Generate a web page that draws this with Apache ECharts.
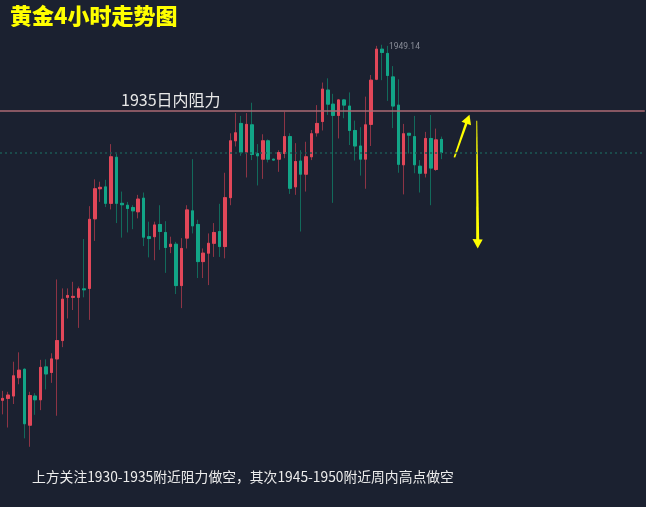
<!DOCTYPE html>
<html>
<head>
<meta charset="utf-8">
<script src="https://cdn.jsdelivr.net/npm/echarts@6/dist/echarts.min.js"></script>
<style>
html,body{margin:0;padding:0;background:#1b2130;}
#c{width:646px;height:507px;}
</style>
</head>
<body>
<div id="c"></div>
<script>
// ---- data (4h gold candles) ----
const opens  = [1873.5,1873.9,1874.4,1878.3,1880.1,1868.2,1874.4,1873.6,1880.6,1879.4,
                1882.3,1886.2,1895.4,1895.4,1895.4,1897.2,1897.3,1912.1,1918.5,1918.9,
                1915.4,1925.2,1915.4,1915.0,1914.5,1913.6,1916.5,1908.3,1908.3,1910.9,
                1909.2,1906.2,1906.7,1897.9,1908.0,1913.8,1910.9,1903.0,1904.8,1906.9,
                1909.4,1906.2,1916.6,1928.7,1932.4,1926.3,1932.1,1926.0,1924.8,1928.7,
                1924.8,1924.8,1926.0,1929.6,1918.9,1924.4,1921.6,1925.3,1930.4,1932.8,
                1939.5,1936.5,1934.1,1937.4,1936.1,1930.9,1927.6,1924.8,1932.2,1941.8,
                1948.2,1947.3,1942.3,1936.3,1923.6,1930.3,1929.6,1923.3,1921.8,1929.2,
                1922.6,1929.0];
const closes = [1873.9,1874.6,1878.7,1879.9,1868.5,1874.5,1873.6,1880.5,1879.1,1882.3,
                1886.2,1895.0,1895.8,1895.6,1897.2,1897.0,1912.0,1918.5,1918.8,1915.4,
                1925.3,1915.4,1915.1,1914.3,1913.8,1916.3,1908.2,1907.9,1910.8,1909.4,
                1906.0,1906.7,1897.9,1905.8,1914.0,1910.6,1903.0,1904.8,1906.9,1909.2,
                1906.2,1916.6,1928.7,1930.4,1926.3,1932.2,1925.8,1925.5,1928.7,1924.8,
                1924.6,1926.2,1929.6,1918.6,1924.3,1921.6,1925.3,1930.2,1932.4,1939.7,
                1936.5,1934.1,1937.4,1936.3,1930.9,1927.6,1924.8,1932.1,1941.6,1948.2,
                1947.5,1942.6,1936.1,1923.7,1930.2,1929.9,1923.6,1921.8,1929.2,1922.9,
                1928.9,1926.2];
const lows   = [1870.5,1867.7,1872.7,1876.9,1865.4,1863.6,1870.4,1871.4,1875.8,1877.2,
                1870.2,1884.8,1890.9,1892.7,1888.9,1895.4,1890.6,1907.4,1915.7,1914.6,
                1914.1,1911.2,1908.1,1909.2,1909.9,1912.2,1906.3,1903.9,1903.3,1905.5,
                1900.6,1904.8,1896.1,1893.1,1905.8,1909.0,1899.5,1899.5,1898.0,1904.0,
                1904.0,1903.7,1915.0,1927.5,1925.5,1920.9,1924.6,1919.2,1920.6,1924.1,
                1924.5,1922.1,1925.0,1917.4,1917.2,1909.4,1917.9,1924.6,1929.6,1930.9,
                1934.2,1915.5,1929.2,1933.5,1927.8,1924.5,1921.3,1918.5,1927.6,1941.6,
                1941.6,1937.2,1931.4,1921.9,1917.3,1926.0,1921.8,1917.7,1920.9,1915.0,
                1922.3,1924.8];
const highs  = [1875.5,1875.3,1881.7,1883.7,1880.3,1875.3,1875.0,1882.1,1882.2,1883.5,
                1899.2,1897.3,1897.3,1898.7,1897.7,1907.8,1914.8,1920.5,1920.0,1920.4,
                1928.0,1926.0,1917.9,1915.7,1915.0,1917.2,1917.7,1911.5,1911.5,1915.0,
                1911.6,1908.3,1907.2,1908.0,1915.0,1924.8,1911.9,1905.8,1909.0,1911.2,
                1915.3,1921.9,1930.3,1934.6,1934.0,1934.6,1936.8,1928.0,1930.1,1929.0,
                1924.9,1926.7,1934.9,1930.3,1928.2,1926.7,1928.5,1931.0,1936.3,1941.1,
                1942.0,1938.7,1937.6,1937.6,1939.0,1933.0,1931.6,1938.1,1942.7,1948.9,
                1949.14,1948.9,1944.6,1941.8,1932.3,1930.3,1934.0,1924.6,1930.6,1934.2,
                1931.3,1929.6];
const resistance = 1935;
const resistanceLabel = '1935日内阻力';
const titleText = '黄金4小时走势图';
const noteText = '上方关注1930-1935附近阻力做空，其次1945-1950附近周内高点做空';
const slotCount = 119; // candle slots across the whole picture (future slots empty)
const categories = Array.from({length: slotCount}, (_, i) => 'K' + (i + 1));

// ---- build series data ----
const full = opens.map((o, i) => [o, closes[i], lows[i], highs[i]]);
const bodies = opens.map((o, i) => [o, closes[i], Math.min(o, closes[i]), Math.max(o, closes[i])]);
const lastClose = closes[closes.length - 1];

const UP = '#e24759', DOWN = '#12a587';
const UP_WICK = '#8d3445', DOWN_WICK = '#126a5b';

const chart = echarts.init(document.getElementById('c'), null, {renderer: 'canvas'});
chart.setOption({
  backgroundColor: '#1b2130',
  animation: false,
  grid: {left: -1.4, width: 646.2, top: 0, height: 507},
  xAxis: {type: 'category', data: categories, show: false, boundaryGap: true},
  yAxis: {type: 'value', min: 1850.79, max: 1958.66, show: false},
  series: [
    {
      type: 'candlestick',
      data: full,
      barWidth: 3,
      itemStyle: {color: UP, color0: DOWN, borderColor: UP_WICK, borderColor0: DOWN_WICK, borderWidth: 1},
      markLine: {
        symbol: 'none', silent: true, animation: false,
        label: {show: false},
        data: [
          {yAxis: resistance, lineStyle: {color: '#ac6a73', width: 1.5, type: 'solid'}},
          {yAxis: lastClose, lineStyle: {color: '#1d5a54', width: 1.5, type: [2, 3]}}
        ]
      },
      markPoint: {
        symbol: 'circle', symbolSize: 0, silent: true, animation: false,
        data: [{type: 'max', valueDim: 'highest'}],
        label: {
          show: true, position: 'right', distance: 7, offset: [0, 2],
          color: '#8a8e99', fontSize: 8.5, fontFamily: 'Roboto',
          formatter: p => p.value.toFixed(2)
        }
      }
    },
    {
      type: 'candlestick',
      data: bodies,
      barWidth: 3,
      itemStyle: {color: UP, color0: DOWN, borderColor: UP, borderColor0: DOWN, borderWidth: 1}
    }
  ],
  graphic: [
    {type: 'text', left: 10, top: 5, style: {text: titleText, fill: '#ffff00', font: '900 22px "Noto Sans CJK SC"'}},
    {type: 'text', left: 121, top: 92, style: {text: resistanceLabel, fill: '#e8e8e8', font: '16px "Noto Sans CJK SC"'}},
    {type: 'text', left: 32, top: 470, style: {text: noteText, fill: '#ececec', font: '13.8px "Noto Sans CJK SC"'}},
    {type: 'polygon', shape: {points: [[453.6,157.3],[455.2,157.6],[467.6,123.5],[465.2,122.5]]}, style: {fill: '#ffff00'}},
    {type: 'polygon', shape: {points: [[469.5,114.8],[461.5,121.8],[471,125.2]]}, style: {fill: '#ffff00'}},
    {type: 'polygon', shape: {points: [[476.3,120.7],[477.2,120.7],[479.2,240],[476.2,240]]}, style: {fill: '#ffff00'}},
    {type: 'polygon', shape: {points: [[477.7,248.5],[472.5,239],[482.7,239.5]]}, style: {fill: '#ffff00'}}
  ]
});
</script>
</body>
</html>
